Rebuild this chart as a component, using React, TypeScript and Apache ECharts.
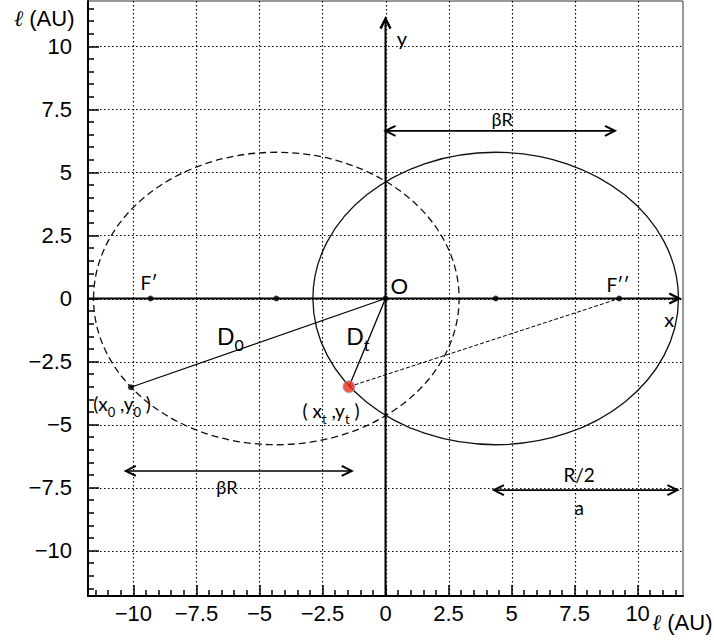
import React, { useEffect, useRef } from 'react';
import * as echarts from 'echarts';

// ---- axis ranges & ticks ----
const xRange = [-11.8, 11.8];
const yRange = [-11.8, 11.8];
const majorTicks = [-10, -7.5, -5, -2.5, 0, 2.5, 5, 7.5, 10];
const minorTicks = [
  -11.5, -11, -10.5, -9.5, -9, -8.5, -8, -7, -6.5, -6, -5.5, -4.5, -4, -3.5, -3, -2, -1.5, -1, -0.5,
  0.5, 1, 1.5, 2, 3, 3.5, 4, 4.5, 5.5, 6, 6.5, 7, 8, 8.5, 9, 9.5, 10.5, 11, 11.5,
];

// ---- ellipses: cx, cy, semi-axis x, semi-axis y, dashed(1) ----
const ellipseSolid = [4.37, 0, 7.25, 5.8, 0];
const ellipseDashed = [-4.33, 0, 7.25, 5.8, 1];

// ---- arrows: x1, y1, x2, y2, heads (1 = end, 2 = both), kind (0 axis, 1 dimension) ----
const axisArrowX = [-11.8, 0, 11.65, 0, 1, 0];
const axisArrowY = [0, -11.8, 0, 11.1, 1, 0];
const betaRTop = [0, 6.65, 9.1, 6.65, 2, 1];
const betaRBottom = [-10.3, -6.84, -1.34, -6.84, 2, 1];
const halfR = [4.3, -7.6, 11.58, -7.6, 2, 1];

// ---- points ----
const axisDotsX = [-9.32, -4.33, 0, 4.37, 9.27];
const axisDotsY = [0, 0, 0, 0, 0];
const startPoint = [-10.1, -3.52];
const currentPoint = [-1.45, -3.5];
const origin = [0, 0];
const focusFpp = [9.27, 0];

// ---- annotations ----
const annText = [
  'O',
  'F′',
  'F′′',
  'x',
  'y',
  'D{s|0}',
  'D{s|t}',
  '(x{s|0} ,y{s|0} )',
  '( x{s|t} ,y{s|t} )',
  'βR',
  'βR',
  'R/2',
  'a',
];
const annX = [0.55, -9.38, 9.22, 11.25, 0.65, -6.15, -1.1, -10.45, -2.16, 4.63, -6.29, 7.68, 7.68];
const annY = [0.53, 0.62, 0.55, -0.8, 10.35, -1.47, -1.47, -4.17, -4.45, 7.13, -7.49, -7.0, -8.27];
const annSize = [22, 19, 19, 20, 20, 23, 23, 19, 19, 18, 18, 19, 19];

const tickFont = '"Liberation Sans", Arial, sans-serif';
const annFont = 'Lato, "Noto Sans", sans-serif';

const fmt = (v: number) => (v < 0 ? '−' : '') + String(Math.abs(v));

export default function App() {
  const ref = useRef<HTMLDivElement>(null);

  useEffect(() => {
    if (!ref.current) return;
    const chart = echarts.init(ref.current, undefined, { renderer: 'svg' });

    const majorAxis = (pos: 'bottom' | 'left', range: number[]) => ({
      type: 'value',
      position: pos,
      min: range[0],
      max: range[1],
      axisLine: { show: true, onZero: false, lineStyle: { color: '#000', width: 2 } },
      axisTick: {
        show: true,
        inside: true,
        length: 11,
        customValues: majorTicks,
        lineStyle: { color: '#000', width: 1.5 },
      },
      axisLabel: {
        show: true,
        customValues: majorTicks,
        formatter: fmt,
        color: '#000',
        fontSize: 22,
        fontFamily: tickFont,
        margin: pos === 'bottom' ? 6 : 16,
      },
      splitLine: { show: false },
    });

    const minorAxis = (pos: 'bottom' | 'left', range: number[]) => ({
      type: 'value',
      position: pos,
      min: range[0],
      max: range[1],
      axisLine: { show: false, onZero: false },
      axisTick: {
        show: true,
        inside: true,
        length: 6,
        customValues: minorTicks,
        lineStyle: { color: '#000', width: 1.5 },
      },
      axisLabel: { show: false },
      splitLine: { show: false },
    });

    const gridRender = (params: any, api: any) => {
      const v = api.value(0);
      const a = api.coord([v, yRange[0]]);
      const b = api.coord([v, yRange[1]]);
      const c = api.coord([xRange[0], v]);
      const d = api.coord([xRange[1], v]);
      const px = Math.round(a[0]) + 0.5;
      const py = Math.round(c[1]) + 0.5;
      const st = () => ({ stroke: '#000', lineWidth: 1.2, lineDash: [1.5, 2.5] });
      return {
        type: 'group',
        children: [
          { type: 'line', shape: { x1: px, y1: b[1], x2: px, y2: a[1] }, style: st() },
          { type: 'line', shape: { x1: c[0], y1: py, x2: d[0], y2: py }, style: st() },
        ],
      };
    };

    const arrowRender = (params: any, api: any) => {
      const p1 = api.coord([api.value(0), api.value(1)]);
      const p2 = api.coord([api.value(2), api.value(3)]);
      const heads = api.value(4);
      const kind = api.value(5);
      const lw = kind === 0 ? 2 : 1.6;
      const ang = Math.atan2(p2[1] - p1[1], p2[0] - p1[0]);
      const L = 10;
      const H = 5;
      const chevron = (tip: number[], a: number) => {
        const c = Math.cos(a);
        const s = Math.sin(a);
        return {
          type: 'polyline',
          shape: {
            points: [
              [tip[0] - L * c - H * s, tip[1] - L * s + H * c],
              [tip[0], tip[1]],
              [tip[0] - L * c + H * s, tip[1] - L * s - H * c],
            ],
          },
          style: { stroke: '#000', lineWidth: lw + 0.4, fill: 'none' },
        };
      };
      const children: any[] = [
        {
          type: 'line',
          shape: { x1: p1[0], y1: p1[1], x2: p2[0], y2: p2[1] },
          style: { stroke: '#000', lineWidth: lw },
        },
        chevron(p2, ang),
      ];
      if (heads === 2) children.push(chevron(p1, ang + Math.PI));
      return { type: 'group', children };
    };

    const ellipseRender = (params: any, api: any) => {
      const c = api.coord([api.value(0), api.value(1)]);
      const s = api.size([api.value(2), api.value(3)]);
      const dashed = api.value(4) === 1;
      return {
        type: 'ellipse',
        shape: { cx: c[0], cy: c[1], rx: s[0], ry: s[1] },
        style: {
          fill: 'none',
          stroke: '#111',
          lineWidth: 1.3,
          lineDash: dashed ? [7, 4] : null,
        },
      };
    };

    const textRender = (params: any, api: any) => {
      const i = api.value(2);
      const c = api.coord([api.value(0), api.value(1)]);
      const fs = annSize[i];
      return {
        type: 'text',
        x: c[0],
        y: c[1],
        style: {
          text: annText[i],
          fill: '#000',
          fontSize: fs,
          fontFamily: annFont,
          align: 'center',
          verticalAlign: 'middle',
          lineHeight: fs + 10,
          rich: {
            s: {
              fontSize: Math.round(fs * 0.68),
              fontFamily: annFont,
              fill: '#000',
              verticalAlign: 'bottom',
            },
          },
        },
      };
    };

    const segment = (a: number[], b: number[], type: any, width: number) => ({
      type: 'line',
      data: [a, b],
      symbol: 'none',
      silent: true,
      z: 3,
      lineStyle: { color: '#000', width, type },
    });

    const titleStyle = {
      text: '{l|ℓ} (AU)',
      fontSize: 22,
      fontFamily: tickFont,
      fill: '#000',
      rich: { l: { fontSize: 22, fontStyle: 'italic', fontFamily: '"DejaVu Serif", serif', fill: '#000' } },
    };

    chart.setOption({
      animation: false,
      backgroundColor: '#fff',
      grid: {
        left: 88,
        right: 31,
        top: 1,
        bottom: 44,
        show: true,
        borderColor: '#333',
        borderWidth: 1,
        containLabel: false,
      },
      xAxis: [majorAxis('bottom', xRange), minorAxis('bottom', xRange)],
      yAxis: [majorAxis('left', yRange), minorAxis('left', yRange)],
      graphic: [
        { type: 'text', left: 14, top: 7, style: titleStyle },
        { type: 'text', left: 652, top: 611, style: titleStyle },
      ],
      series: [
        {
          type: 'custom',
          renderItem: gridRender,
          data: majorTicks.map((v) => [v, v]),
          silent: true,
          clip: false,
          z: 1,
        },
        {
          type: 'custom',
          renderItem: ellipseRender,
          data: [ellipseSolid, ellipseDashed],
          silent: true,
          z: 2,
        },
        {
          type: 'custom',
          renderItem: arrowRender,
          data: [axisArrowX, axisArrowY, betaRTop, betaRBottom, halfR],
          silent: true,
          z: 3,
        },
        segment(startPoint, origin, 'solid', 1.3),
        segment(currentPoint, origin, 'solid', 1.3),
        segment(currentPoint, focusFpp, [4, 2], 1),
        {
          type: 'scatter',
          data: axisDotsX.map((x, i) => [x, axisDotsY[i]]).concat([startPoint]),
          symbolSize: 6,
          itemStyle: { color: '#000' },
          silent: true,
          z: 5,
        },
        {
          type: 'scatter',
          data: [currentPoint],
          symbolSize: 12,
          itemStyle: { color: '#f03018', borderColor: '#9aa8d8', borderWidth: 1 },
          silent: true,
          z: 6,
        },
        {
          type: 'custom',
          renderItem: textRender,
          data: annX.map((x, i) => [x, annY[i], i]),
          silent: true,
          z: 7,
        },
      ],
    });

    return () => chart.dispose();
  }, []);

  return (
    <div
      ref={ref}
      style={{ position: 'absolute', left: 0, top: 0, width: 714, height: 640, background: '#fff' }}
    />
  );
}
